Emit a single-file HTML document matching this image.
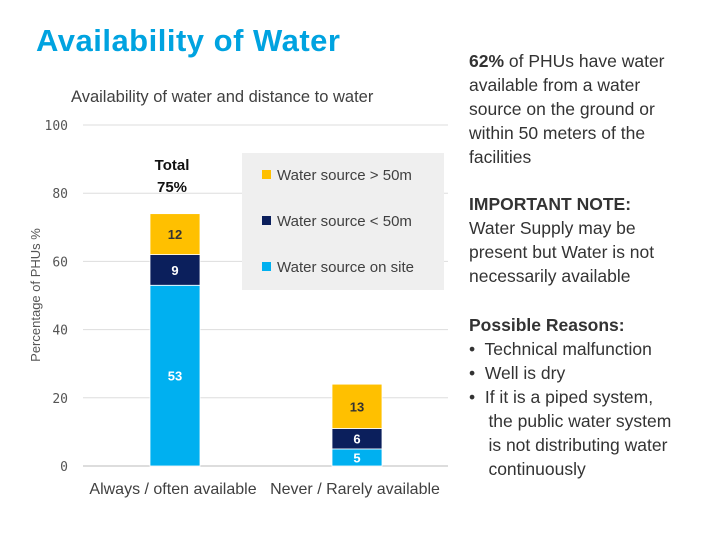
<!DOCTYPE html>
<html><head><meta charset="utf-8"><style>
body{margin:0;width:720px;height:540px;background:#fff;font-family:"Liberation Sans",sans-serif;position:relative;overflow:hidden}
.t{position:absolute;white-space:nowrap}
</style></head><body>
<div class="t" style="left:36px;top:23px;font-size:31px;color:#00a3e0;font-weight:bold;letter-spacing:0.5px">Availability of Water</div>
<div class="t" style="left:71px;top:88px;font-size:16.5px;color:#404040">Availability of water and distance to water</div>
<svg id="chart" width="720" height="540" style="position:absolute;left:0;top:0"></svg>
<div class="t" style="left:469px;top:49px;font-size:17.5px;line-height:24px;color:#333"><b>62%</b> of PHUs have water<br>available from a water<br>source on the ground or<br>within 50 meters of the<br>facilities</div>
<div class="t" style="left:469px;top:192px;font-size:17.5px;line-height:24px;color:#333"><b>IMPORTANT NOTE:</b><br>Water Supply may be<br>present but Water is not<br>necessarily available</div>
<div class="t" style="left:469px;top:313px;font-size:17.5px;line-height:24px;color:#333"><b>Possible Reasons:</b><br>•&nbsp; Technical malfunction<br>•&nbsp; Well is dry<br>•&nbsp; If it is a piped system,<br>&nbsp;&nbsp;&nbsp;&nbsp;the public water system<br>&nbsp;&nbsp;&nbsp;&nbsp;is not distributing water<br>&nbsp;&nbsp;&nbsp;&nbsp;continuously</div>
<script>
const categories=["Always / often available","Never / Rarely available"];
const onSite=[53,5];
const under50=[9,6];
const over50=[12,13];
const yTicks=[0,20,40,60,80,100];
const NS="http://www.w3.org/2000/svg";
const svg=document.getElementById('chart');
function y(v){return 466-v*3.41;}
function xc(i){return 175+i*182;}
function el(tag,attrs,txt){const e=document.createElementNS(NS,tag);for(const k in attrs)e.setAttribute(k,attrs[k]);if(txt!==undefined)e.textContent=txt;svg.appendChild(e);return e;}
yTicks.forEach(t=>{
 const g=el('line',{x1:83,x2:448,y1:y(t),y2:y(t),stroke:t===0?'#bbb':'#ddd','stroke-width':1});
 
 
 const l=el('text',{x:68,y:y(t)+5,'text-anchor':'end','font-size':13,fill:'#555','font-family':'DejaVu Sans Mono, monospace'},t);
 
 
});
const yt=el('text',{transform:'translate(40,295) rotate(-90)','text-anchor':'middle','font-size':13,fill:'#555'},'Percentage of PHUs %');


const lb=el('rect',{x:242,y:153,width:202,height:137,fill:'#efefef'});


const series=[{n:'Water source > 50m',c:'#ffc000'},{n:'Water source < 50m',c:'#0b1f5c'},{n:'Water source on site',c:'#00b0f0'}];
series.forEach((s,k)=>{
 const r=el('rect',{x:262,y:170+k*46,width:9,height:9,fill:s.c});
 
 
 const t=el('text',{x:277,y:180+k*46,'font-size':15,fill:'#404040'},s.n);
 
 
});
const order=[onSite,under50,over50];
const cols=['#00b0f0','#0b1f5c','#ffc000'];
const tcols=['#fff','#fff','#333'];
categories.forEach((c,i)=>{
 let base=0;
 order.forEach((arr,k)=>{
  const v=arr[i];
  const r=el('rect',{x:xc(i)-25,y:y(base+v),width:50,height:y(base)-y(base+v),fill:cols[k],stroke:'#fff','stroke-width':0.8});
  
  
  const lt=el('text',{x:xc(i),y:(y(base)+y(base+v))/2+5,'text-anchor':'middle','font-size':13,'font-weight':'bold',fill:tcols[k]},v);
  
  
  base+=v;
 });
 const cl=el('text',{x:xc(i)-2,y:494,'text-anchor':'middle','font-size':16,fill:'#404040'},c);
 
 
});
const t1=el('text',{x:172,y:170,'text-anchor':'middle','font-size':15,'font-weight':'bold',fill:'#111'},'Total');


const t2=el('text',{x:172,y:192,'text-anchor':'middle','font-size':15,'font-weight':'bold',fill:'#111'},'75%');


</script>
</body></html>
